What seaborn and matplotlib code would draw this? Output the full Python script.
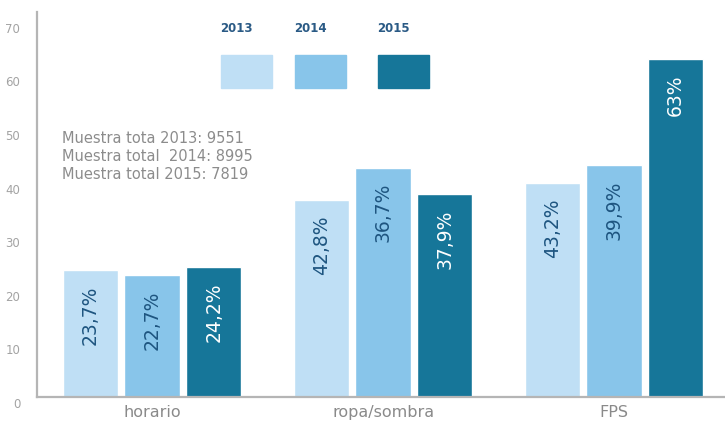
import pandas as pd
import seaborn as sns
from matplotlib import pyplot as plt
from matplotlib.patches import Rectangle
from matplotlib.transforms import ScaledTranslation

categories = ["horario", "ropa/sombra", "FPS"]
years = ["2013", "2014", "2015"]
# bar heights as drawn in the picture
values_2013 = [23.7, 36.7, 39.9]
values_2014 = [22.7, 42.8, 43.2]
values_2015 = [24.2, 37.9, 63.0]
# texts printed inside the bars (as they appear in the original)
labels_2013 = ["23,7%", "42,8%", "43,2%"]
labels_2014 = ["22,7%", "36,7%", "39,9%"]
labels_2015 = ["24,2%", "37,9%", "63%"]
yticks = [0, 10, 20, 30, 40, 50, 60, 70]
notes = ["Muestra tota 2013: 9551", "Muestra total  2014: 8995", "Muestra total 2015: 7819"]

colors = ["#bfdff5", "#88c5ea", "#167699"]
text_colors = ["#1e5580", "#1e5580", "#ffffff"]

rows = []
for y, vals in zip(years, [values_2013, values_2014, values_2015]):
    for c, v in zip(categories, vals):
        rows.append({"cat": c, "year": y, "val": v})
df = pd.DataFrame(rows)

sns.set_style("white")
plt.rcParams["font.family"] = ["DejaVu Sans"]

fig = plt.figure(figsize=(7.25, 4.28), dpi=100)
ax = fig.add_axes([37 / 725, 31 / 428, 688 / 725, 385 / 428])
sns.barplot(data=df, x="cat", y="val", hue="year", palette=colors,
            width=0.8, gap=0.1, saturation=1, ax=ax, legend=False)

ax.set_xlim(-0.498, 2.48)
ax.set_ylim(0, 71.8)
ax.set_yticks(yticks)
ax.set_xlabel("")
ax.set_ylabel("")
ax.tick_params(axis="y", length=0, pad=12, labelsize=8.5, labelcolor="#a3a3a3")
ax.tick_params(axis="x", length=0, pad=6, labelsize=11.5, labelcolor="#8a8a8a")
shift = ScaledTranslation(0, -6 / 100, fig.dpi_scale_trans)
for t in ax.yaxis.get_major_ticks():
    t.label1.set_transform(t.label1.get_transform() + shift)

for s in ["top", "right"]:
    ax.spines[s].set_visible(False)
for s in ["left", "bottom"]:
    ax.spines[s].set_color("#b5b5b5")
    ax.spines[s].set_linewidth(1.6)

all_labels = [labels_2013, labels_2014, labels_2015]
for i, cont in enumerate(ax.containers):
    for bar, lab in zip(cont, all_labels[i]):
        ax.text(bar.get_x() + bar.get_width() / 2, bar.get_height() - 2.9, lab,
                rotation=90, ha="center", va="top", fontsize=13.5,
                color=text_colors[i])

# legend: year text above a colour swatch
leg_x = [0.266, 0.3735, 0.494]
for x, y, c in zip(leg_x, years, colors):
    ax.text(x, 0.957, y, transform=ax.transAxes, ha="left", va="center",
            fontsize=8.5, fontweight="semibold", color="#2a5a85")
    ax.add_patch(Rectangle((x + 0.001, 0.8026), 0.0741, 0.0857,
                           transform=ax.transAxes, color=c, clip_on=False))

ax.text(0.0363, 0.69, "\n".join(notes), transform=ax.transAxes, ha="left",
        va="top", fontsize=10.5, color="#8c8c8c", linespacing=1.25)

fig.savefig("out.png", dpi=100)
